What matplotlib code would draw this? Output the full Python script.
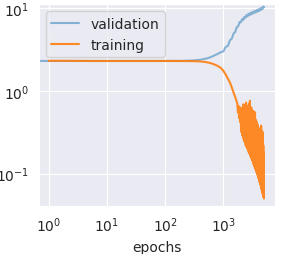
import numpy as np
import matplotlib
matplotlib.use("Agg")
import matplotlib.pyplot as plt
import seaborn as sns

sns.set_style("darkgrid")

# validation loss (epoch 0 is the evaluation before training)
val_epochs = [0, 1, 2, 5, 10, 20, 50, 100, 200, 300, 400, 500, 600, 700, 800, 900,
              1000, 1100, 1200, 1300, 1400, 1500, 1600, 1700, 1800, 1900, 2000,
              2100, 2200, 2300, 2400, 2500, 2600, 2700, 2800, 2900, 3000, 3100,
              3200, 3300, 3400, 3500, 3600, 3700, 3800, 3900, 4000, 4100, 4200,
              4300, 4400, 4500, 4600, 4700, 4800, 4900, 5000]
val_loss = [2.30, 2.30, 2.30, 2.30, 2.30, 2.30, 2.30, 2.30, 2.31, 2.33, 2.38, 2.45,
            2.55, 2.68, 2.80, 2.93,
            3.0, 3.4, 3.5, 4.1, 4.3, 4.95, 5.15, 5.9, 6.05, 6.8, 6.75,
            7.35, 7.2, 7.85, 7.65, 8.25, 7.95, 8.55, 8.2, 8.75, 8.4, 8.95,
            8.6, 9.1, 8.75, 9.25, 8.9, 9.4, 9.05, 9.55, 9.2, 9.75, 9.35,
            9.9, 9.5, 10.05, 9.7, 10.25, 9.9, 10.45, 10.3]

# training loss
train_epochs = [1, 2, 5, 10, 20, 50, 100, 200, 300, 400, 500, 600, 700, 800, 900,
                1000, 1100, 1200, 1300, 1400, 1500, 1600, 1700,
                1740, 1780, 1820, 1860, 1900, 1940, 1980, 2020, 2060, 2100,
                2140, 2180, 2220, 2260, 2300, 2340, 2380, 2420, 2460, 2500,
                2540, 2580, 2620, 2660, 2700, 2740, 2780, 2820, 2860, 2900,
                2940, 2980, 3020, 3060, 3100, 3140, 3180, 3220, 3260, 3300,
                3340, 3380, 3420, 3460, 3500, 3540, 3580, 3620, 3660, 3700,
                3740, 3780, 3820, 3860, 3900, 3940, 3980, 4020, 4060, 4100,
                4140, 4180, 4220, 4260, 4300, 4340, 4380, 4420, 4460, 4500,
                4540, 4580, 4620, 4660, 4700, 4740, 4780, 4820, 4860, 4900,
                4940, 4980]
train_loss = [2.31, 2.31, 2.30, 2.30, 2.30, 2.30, 2.30, 2.295, 2.29, 2.27, 2.23,
              2.17, 2.09, 2.00, 1.90, 1.75, 1.57, 1.40, 1.26, 1.10, 0.95, 0.84, 0.74,
              0.70, 0.55, 0.66, 0.47, 0.64, 0.42, 0.60, 0.32, 0.62, 0.29,
              0.58, 0.27, 0.69, 0.25, 0.55, 0.24, 0.64, 0.22, 0.72, 0.21,
              0.58, 0.20, 0.66, 0.19, 0.60, 0.18, 0.70, 0.175, 0.76, 0.165,
              0.62, 0.16, 0.63, 0.15, 0.52, 0.145, 0.58, 0.14, 0.50, 0.13,
              0.56, 0.125, 0.48, 0.12, 0.55, 0.115, 0.45, 0.11, 0.43, 0.105,
              0.42, 0.10, 0.40, 0.097, 0.38, 0.092, 0.36, 0.088, 0.35, 0.084,
              0.33, 0.08, 0.32, 0.077, 0.30, 0.074, 0.34, 0.07, 0.38, 0.066,
              0.33, 0.063, 0.30, 0.06, 0.32, 0.057, 0.31, 0.054, 0.22, 0.052,
              0.18, 0.05]

fig = plt.figure(figsize=(2.82, 2.55), dpi=100)
ax = fig.add_axes([0.138, 0.188, 0.837, 0.792])

ax.plot(val_epochs, val_loss, color="tab:blue", alpha=0.5, label="validation")
ax.plot(train_epochs, train_loss, color="tab:orange", alpha=0.9, label="training")
ax.set_xscale("log")
ax.set_yscale("log")
ax.set_xlim(0.68, 7700)
ax.set_ylim(0.0405, 11.2)
ax.set_xlabel("epochs")
ax.legend(loc="upper left")

fig.savefig("out.png", dpi=100)
